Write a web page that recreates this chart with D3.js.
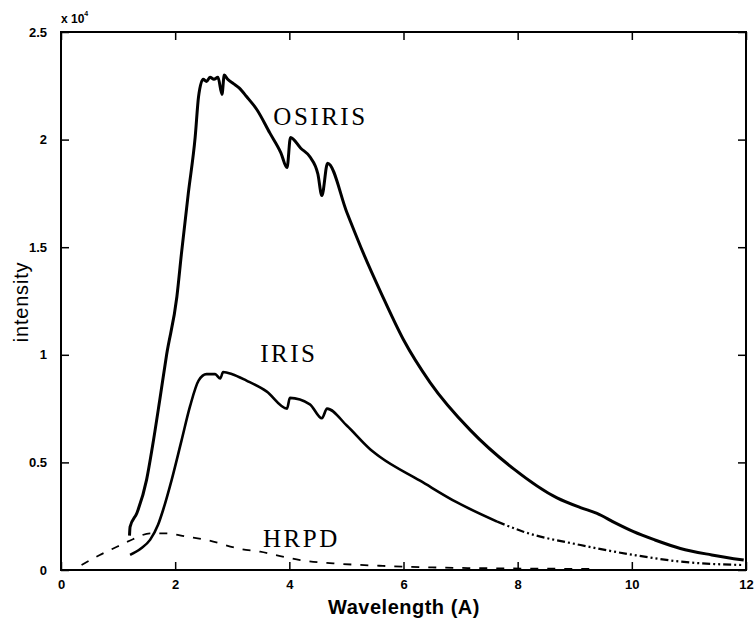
<!DOCTYPE html>
<html><head><meta charset="utf-8">
<script src="https://cdn.jsdelivr.net/npm/d3@7/dist/d3.min.js"></script>
<style>body{margin:0;background:#fff}svg{display:block}</style>
</head><body>
<svg id="c" width="756" height="622"></svg>
<script>
// Data (intensity in units of the axis multiplier)
const xTicks = [0, 2, 4, 6, 8, 10, 12];
const yTicks = [0, 0.5, 1, 1.5, 2, 2.5];
const yTickLabels = ["0", "0.5", "1", "1.5", "2", "2.5"];

const osirisX = [1.2, 1.21, 1.33, 1.5, 1.6, 1.73, 1.85, 2.03, 2.11, 2.23, 2.35, 2.41, 2.49, 2.55, 2.61, 2.68, 2.75, 2.82, 2.86, 2.92, 3.02, 3.12, 3.25, 3.43, 3.66, 3.85, 3.96, 4.02, 4.2, 4.36, 4.5, 4.57, 4.67, 5.01, 5.3, 5.62, 6.0, 6.47, 7.17, 7.93, 8.69, 9.1, 9.39, 9.7, 10.03, 10.4, 10.85, 11.4, 11.96];
const osirisY = [0.16, 0.2, 0.265, 0.42, 0.57, 0.79, 1.0, 1.27, 1.47, 1.75, 2.01, 2.2, 2.28, 2.27, 2.29, 2.28, 2.29, 2.21, 2.30, 2.28, 2.26, 2.24, 2.20, 2.14, 2.03, 1.94, 1.87, 2.01, 1.96, 1.92, 1.84, 1.74, 1.89, 1.66, 1.47, 1.28, 1.07, 0.87, 0.65, 0.47, 0.335, 0.29, 0.263, 0.22, 0.178, 0.14, 0.10, 0.07, 0.046];

const irisX = [1.21, 1.4, 1.56, 1.7, 1.79, 1.94, 2.11, 2.26, 2.41, 2.55, 2.7, 2.79, 2.84, 3.0, 3.25, 3.6, 3.96, 4.01, 4.36, 4.57, 4.66, 5.01, 5.42, 5.59, 6.29, 6.93, 7.64, 8.1, 9.1, 10.03, 10.85, 11.96];
const irisY = [0.07, 0.10, 0.14, 0.21, 0.28, 0.42, 0.60, 0.76, 0.88, 0.91, 0.91, 0.89, 0.92, 0.91, 0.88, 0.83, 0.75, 0.80, 0.77, 0.705, 0.75, 0.67, 0.56, 0.525, 0.415, 0.315, 0.225, 0.178, 0.116, 0.07, 0.039, 0.023];
const irisSolidUntil = 7.64;

const hrpdX = [0.36, 0.68, 0.98, 1.26, 1.56, 1.85, 2.2, 2.55, 3.14, 3.49, 3.84, 4.19, 4.77, 5.64, 6.5, 7.5, 8.5, 9.3];
const hrpdY = [0.023, 0.07, 0.108, 0.143, 0.17, 0.17, 0.155, 0.14, 0.098, 0.085, 0.065, 0.046, 0.031, 0.019, 0.012, 0.008, 0.006, 0.005];

const labels = [
  {text: "OSIRIS", x: 3.72, y: 2.07},
  {text: "IRIS", x: 3.49, y: 0.967},
  {text: "HRPD", x: 3.54, y: 0.107}
];

const svg = d3.select("#c");
const L = 61, R = 746, T = 32, B = 570;
const x = d3.scaleLinear().domain([0, 12]).range([L, R]);
const y = d3.scaleLinear().domain([0, 2.5]).range([B, T]);

const zip = (xs, ys) => xs.map((v, i) => [v, ys[i]]);
const line = d3.line().x(d => x(d[0])).y(d => y(d[1])).curve(d3.curveMonotoneX);

// Curves
const osiris = zip(osirisX, osirisY);
svg.append("path").attr("d", line(osiris)).attr("fill", "none")
  .attr("stroke", "#000").attr("stroke-width", 3).attr("stroke-linejoin", "round");

const iris = zip(irisX, irisY);
const irisSolid = iris.filter(d => d[0] <= irisSolidUntil);
const irisDash = iris.filter(d => d[0] >= irisSolidUntil);
svg.append("path").attr("d", line(irisSolid)).attr("fill", "none")
  .attr("stroke", "#000").attr("stroke-width", 2.6).attr("stroke-linejoin", "round");
svg.append("path").attr("d", line(irisDash)).attr("fill", "none")
  .attr("stroke", "#000").attr("stroke-width", 2.2).attr("stroke-dasharray", "8,3,2,3,2,3");

const hrpd = zip(hrpdX, hrpdY);
svg.append("path").attr("d", line(hrpd)).attr("fill", "none")
  .attr("stroke", "#000").attr("stroke-width", 1.8).attr("stroke-dasharray", "8,9");

// Frame
svg.append("rect").attr("x", L).attr("y", T).attr("width", R - L).attr("height", B - T)
  .attr("fill", "none").attr("stroke", "#000").attr("stroke-width", 2);

// Axes with inward ticks on all sides
const tickStyle = g => {
  g.select(".domain").remove();
  g.selectAll(".tick line").attr("stroke", "#000").attr("stroke-width", 1.5);
  g.selectAll(".tick text").attr("font-family", "Liberation Sans, Arial, sans-serif")
    .attr("font-size", 13).attr("font-weight", "bold").attr("fill", "#000");
};
svg.append("g").attr("transform", `translate(0,${B})`)
  .call(d3.axisBottom(x).tickValues(xTicks).tickSizeInner(-8).tickSizeOuter(0).tickPadding(10).tickFormat(d3.format("d")))
  .call(tickStyle);
svg.append("g").attr("transform", `translate(0,${T})`)
  .call(d3.axisTop(x).tickValues(xTicks).tickSizeInner(-8).tickSizeOuter(0).tickFormat(""))
  .call(tickStyle);
svg.append("g").attr("transform", `translate(${L},0)`)
  .call(d3.axisLeft(y).tickValues(yTicks).tickSizeInner(-8).tickSizeOuter(0).tickPadding(14).tickFormat((d, i) => yTickLabels[i]))
  .call(tickStyle);
svg.append("g").attr("transform", `translate(${R},0)`)
  .call(d3.axisRight(y).tickValues(yTicks).tickSizeInner(-8).tickSizeOuter(0).tickFormat(""))
  .call(tickStyle);

// Exponent
const ex = svg.append("text").attr("x", L).attr("y", 23)
  .attr("font-family", "Liberation Sans, Arial, sans-serif").attr("font-size", 12).attr("font-weight", "bold");
ex.append("tspan").text("x 10");
ex.append("tspan").attr("dy", -7).attr("font-size", 7).text("4");

// Axis labels
svg.append("text").attr("x", 404).attr("y", 614).attr("text-anchor", "middle")
  .attr("font-family", "Liberation Sans, Arial, sans-serif").attr("font-size", 20).attr("font-weight", "bold")
  .attr("letter-spacing", 0.5).text("Wavelength (A)");
svg.append("text").attr("transform", "translate(28,302) rotate(-90)").attr("text-anchor", "middle")
  .attr("font-family", "Liberation Sans, Arial, sans-serif").attr("font-size", 20)
  .attr("letter-spacing", 0.8).text("intensity");

// Curve labels
svg.selectAll(".lbl").data(labels).enter().append("text")
  .attr("x", d => x(d.x)).attr("y", d => y(d.y))
  .attr("font-family", "Liberation Serif, Times New Roman, serif").attr("font-size", 25)
  .attr("letter-spacing", 2.5).text(d => d.text);
</script>
</body></html>
